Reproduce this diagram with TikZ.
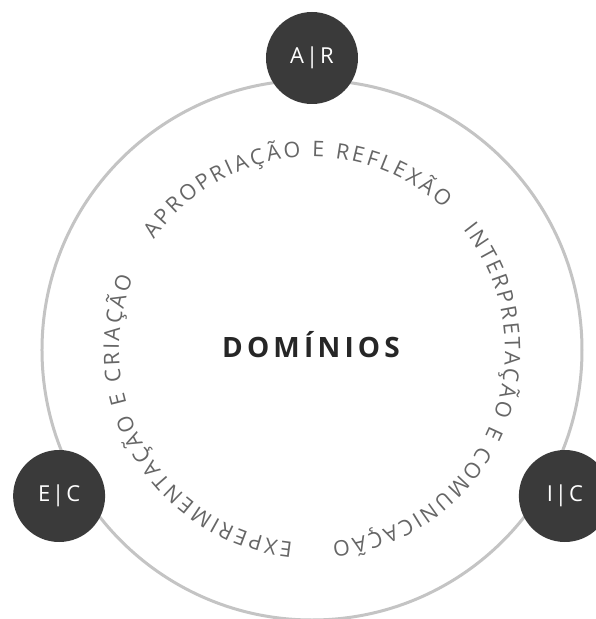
\documentclass[tikz,border=0pt]{standalone}
\usepackage{fontspec}
\setmainfont{Open Sans}
\setsansfont{Open Sans}
\usetikzlibrary{decorations.text}
\newfontfamily\curvefont{Open Sans}
\newfontfamily\labelfont[LetterSpace=9]{Open Sans}
\newfontfamily\titlefont[LetterSpace=15]{Open Sans}
\definecolor{ringgray}{HTML}{C4C4C4}
\definecolor{nodedark}{HTML}{3A3A3A}
\definecolor{curvegray}{HTML}{666666}
\definecolor{titleblack}{HTML}{262626}
\begin{document}
\begin{tikzpicture}[x=1pt,y=1pt,
  domainnode/.style={circle, fill=nodedark, minimum size=92pt, inner sep=0pt,
    text=white, font=\labelfont\fontsize{22}{24}\selectfont},
  ringline/.style={draw=ringgray, line width=3pt},
  curvetext/.style={decorate, decoration={text along path, text align=fit to path,
    text={|\curvefont\fontsize{21.5}{24}\selectfont\color{curvegray}|#1}}}
]
\useasboundingbox (-312,-269) rectangle (284,350);
\fill[white] (-312,-269) rectangle (284,350);
\node[circle, ringline, minimum size=540pt, inner sep=0pt] (ring) at (0,0) {};
\node[domainnode] (ar) at (90:292) {A|R};
\node[domainnode] (ec) at (210:292) {E|C};
\node[domainnode] (ic) at (330:292) {I|C};
\node[anchor=base, text=titleblack, font=\titlefont\bfseries\fontsize{28}{32}\selectfont] (title) at (-1,-7) {DOMÍNIOS};
\path[curvetext={APROPRIAÇÃO E REFLEXÃO}] (145:193) arc[start angle=145, end angle=47, radius=193];
\path[curvetext={INTERPRETAÇÃO E COMUNICAÇÃO}] (38.5:193) arc[start angle=38.5, end angle=-84, radius=193];
\path[curvetext={EXPERIMENTAÇÃO E CRIAÇÃO}] (264.3:193) arc[start angle=264.3, end angle=158, radius=193];
\end{tikzpicture}
\end{document}
